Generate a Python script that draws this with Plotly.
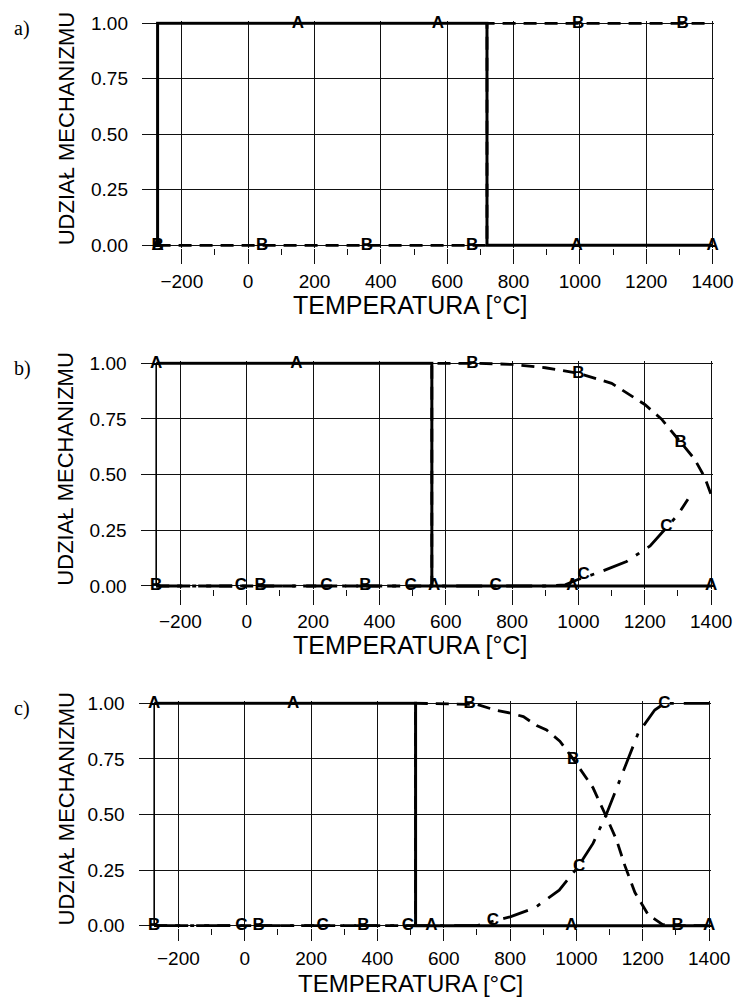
import plotly.graph_objects as go

# ---------------- data ----------------
TEMP_TICKS = [-200, 0, 200, 400, 600, 800, 1000, 1200, 1400]
TEMP_MINOR = [-100, 100, 300, 500, 700, 900, 1100, 1300]
SHARE_TICKS = [0, 0.25, 0.5, 0.75, 1.0]
SHARE_LABELS = ["0.00", "0.25", "0.50", "0.75", "1.00"]
ABS_ZERO = -273
PANEL_LABELS = ["a)", "b)", "c)"]
X_TITLE = "TEMPERATURA [°C]"
Y_TITLE = "UDZIAŁ MECHANIZMU"

# panel a
a_A_x = [-273, -273, 720, 720, 1400]
a_A_y = [0, 1, 1, 0, 0]
a_B_x = [-273, 720, 720, 1400]
a_B_y = [0, 0, 1, 1]
a_C_x = []
a_C_y = []
a_mA_x = [-273, 150, 572, 990, 1400]
a_mA_y = [0, 1, 1, 0, 0]
a_mB_x = [-273, 42, 358, 675, 995, 1310]
a_mB_y = [0, 0, 0, 0, 1, 1]
a_mC_x = []
a_mC_y = []

# panel b
b_A_x = [-273, 558, 558, 1400]
b_A_y = [1, 1, 0, 0]
b_B_x = [-273, 558, 558, 700, 800, 900, 1000, 1100, 1200, 1250, 1300, 1350, 1380, 1400]
b_B_y = [0, 0, 1, 1, 0.995, 0.98, 0.955, 0.91, 0.815, 0.75, 0.66, 0.57, 0.49, 0.41]
b_C_x = [-273, 900, 960, 1000, 1060, 1145, 1216, 1265, 1300, 1330]
b_C_y = [0, 0, 0.005, 0.03, 0.06, 0.11, 0.18, 0.26, 0.32, 0.39]
b_mA_x = [-273, 150, 565, 982, 1400]
b_mA_y = [1, 1, 0, 0, 0]
b_mB_x = [-273, 42, 358, 680, 1000, 1308]
b_mB_y = [0, 0, 0, 1, 0.955, 0.645]
b_mC_x = [-18, 240, 494, 750, 1016, 1265]
b_mC_y = [0, 0, 0, 0, 0.05, 0.265]

# panel c
c_A_x = [-273, 515, 515, 1400]
c_A_y = [1, 1, 0, 0]
c_B_x = [-273, 515, 515, 700, 754, 804, 840, 880, 910, 950, 990, 1020, 1050,
         1090, 1121, 1146, 1176, 1216, 1260, 1300, 1400]
c_B_y = [0, 0, 1, 0.995, 0.97, 0.955, 0.94, 0.90, 0.88, 0.83, 0.75, 0.685, 0.62,
         0.49, 0.385, 0.27, 0.15, 0.05, 0.005, 0, 0]
c_C_x = [-273, 700, 748, 800, 874, 948, 1005, 1050, 1090, 1121, 1153, 1186, 1236, 1266, 1400]
c_C_y = [0, 0, 0.02, 0.04, 0.08, 0.16, 0.265, 0.37, 0.5, 0.62, 0.74, 0.865, 0.97, 1, 1]
c_mA_x = [-273, 146, 563, 985, 1400]
c_mA_y = [1, 1, 0, 0, 0]
c_mB_x = [-273, 42, 358, 678, 990, 1305]
c_mB_y = [0, 0, 0, 1, 0.745, 0]
c_mC_x = [-10, 235, 492, 748, 1008, 1265]
c_mC_y = [0, 0, 0, 0.02, 0.265, 1]

panels = [
    dict(A=(a_A_x, a_A_y), B=(a_B_x, a_B_y), C=(a_C_x, a_C_y),
         mA=(a_mA_x, a_mA_y), mB=(a_mB_x, a_mB_y), mC=(a_mC_x, a_mC_y), zero=False),
    dict(A=(b_A_x, b_A_y), B=(b_B_x, b_B_y), C=(b_C_x, b_C_y),
         mA=(b_mA_x, b_mA_y), mB=(b_mB_x, b_mB_y), mC=(b_mC_x, b_mC_y), zero=True),
    dict(A=(c_A_x, c_A_y), B=(c_B_x, c_B_y), C=(c_C_x, c_C_y),
         mA=(c_mA_x, c_mA_y), mB=(c_mB_x, c_mB_y), mC=(c_mC_x, c_mC_y), zero=True),
]

# ---------------- layout geometry (pixels) ----------------
W, H = 736, 997
geom = [
    dict(left=142.0, right=714.2, y1=23.3, y0=245.3, title_off=60, title_size=25, ticklen=15),
    dict(left=140.6, right=712.8, y1=363.3, y0=586.0, title_off=59, title_size=25, ticklen=15),
    dict(left=138.6, right=710.8, y1=703.3, y0=925.7, title_off=57.5, title_size=24, ticklen=12),
]
XR = [-320, 1405]
YR = [-0.012, 1.009]
FONT = "Liberation Sans, Arial, Helvetica, sans-serif"

fig = go.Figure()
layout = dict(
    width=W, height=H, margin=dict(l=0, r=0, t=0, b=0, pad=0),
    paper_bgcolor="white", plot_bgcolor="white", showlegend=False,
    font=dict(family=FONT, color="black"),
)
annotations = []

line_styles = {
    "A": dict(color="black", width=3, dash="solid"),
    "B": dict(color="black", width=2.8, dash="13px,8px"),
    "C": dict(color="black", width=2.8, dash="26px,10px,4px,10px"),
}

for i, (p, g) in enumerate(zip(panels, geom)):
    n = "" if i == 0 else str(i + 1)
    xa, ya = "x" + n, "y" + n
    span = g["y0"] - g["y1"]
    top_px = g["y1"] - (YR[1] - 1) * span
    bot_px = g["y0"] + (-YR[0]) * span
    ydom = [1 - bot_px / H, 1 - top_px / H]
    xdom = [g["left"] / W, g["right"] / W]

    layout["xaxis" + n] = dict(
        domain=xdom, range=XR, anchor=ya,
        tickmode="array", tickvals=TEMP_TICKS,
        showgrid=True, gridcolor="#111", gridwidth=1,
        ticks="outside", ticklen=g["ticklen"], tickwidth=1, tickcolor="#111",
        ticklabelstandoff=1,
        minor=dict(tickmode="array", tickvals=TEMP_MINOR, ticks="outside",
                   ticklen=6, tickwidth=1, tickcolor="#111", showgrid=False),
        zeroline=False, showline=False, automargin=False,
        tickfont=dict(size=19, family=FONT, color="black"),
    )
    layout["yaxis" + n] = dict(
        domain=ydom, range=YR, anchor=xa,
        tickmode="array", tickvals=SHARE_TICKS, ticktext=SHARE_LABELS,
        showgrid=True, gridcolor="#111", gridwidth=1,
        ticks="", ticklabelstandoff=13,
        zeroline=False, showline=False, automargin=False,
        tickfont=dict(size=19, family=FONT, color="black"),
    )

    if p["zero"]:
        fig.add_trace(go.Scatter(x=[ABS_ZERO, ABS_ZERO], y=[0, 1], mode="lines",
                                 line=dict(color="black", width=1.6),
                                 xaxis=xa, yaxis=ya, hoverinfo="skip"))
    for key in ["C", "B", "A"]:
        xs, ys = p[key]
        if len(xs):
            fig.add_trace(go.Scatter(x=xs, y=ys, mode="lines", line=line_styles[key],
                                     xaxis=xa, yaxis=ya, hoverinfo="skip"))
    for key in ["mC", "mB", "mA"]:
        xs, ys = p[key]
        if len(xs):
            fig.add_trace(go.Scatter(x=xs, y=ys, mode="text", text=[key[1]] * len(xs),
                                     textposition="middle center",
                                     textfont=dict(size=17, family=FONT, color="black",
                                                   weight="bold"),
                                     cliponaxis=False, xaxis=xa, yaxis=ya, hoverinfo="skip"))

    # axis titles and panel label
    annotations.append(dict(text=X_TITLE, x=410 / W, y=1 - (g["y0"] + g["title_off"]) / H,
                            xref="paper", yref="paper", showarrow=False,
                            xanchor="center", yanchor="middle",
                            font=dict(size=g["title_size"], family=FONT, color="black")))
    annotations.append(dict(text=Y_TITLE, x=66 / W, y=1 - ((g["y1"] + g["y0"]) / 2 - 5) / H,
                            xref="paper", yref="paper", showarrow=False, textangle=-90,
                            xanchor="center", yanchor="middle",
                            font=dict(size=22, family=FONT, color="black")))
    annotations.append(dict(text=PANEL_LABELS[i], x=22 / W, y=1 - (g["y1"] + 5) / H,
                            xref="paper", yref="paper", showarrow=False,
                            xanchor="center", yanchor="middle",
                            font=dict(size=20, family="Liberation Serif, Times New Roman, serif",
                                      color="black")))

layout["annotations"] = annotations
fig.update_layout(**layout)

PAGE_FIX = (
    "document.documentElement.style.overflow='hidden';"
    "document.documentElement.style.margin='0px';"
    "document.body.style.margin='0px';"
    "document.body.style.overflow='hidden';"
    "var gd=document.querySelector('.plotly-graph-div');"
    "gd.style.position='fixed';gd.style.left='0px';gd.style.top='0px';"
)
fig.write_html("out.html", config={"displayModeBar": False}, post_script=PAGE_FIX)
